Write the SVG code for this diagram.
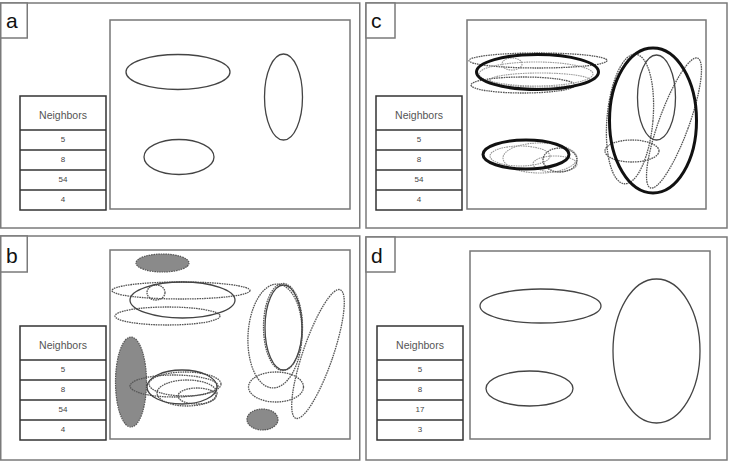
<svg xmlns="http://www.w3.org/2000/svg" width="732" height="461" viewBox="0 0 732 461">
<style>
.frame{fill:#fff;stroke:#7a7a7a;stroke-width:1.5}
.plot{fill:none;stroke:#777;stroke-width:1.5}
.tbl{fill:#fff;stroke:#333;stroke-width:1.5}
.lab{font-family:"Liberation Sans",Arial,sans-serif;font-size:21px;fill:#111}
.hd{font-family:"Liberation Sans",Arial,sans-serif;font-size:10.5px;fill:#555;text-anchor:middle}
.val{font-family:"Liberation Sans",Arial,sans-serif;font-size:8px;fill:#444;text-anchor:middle}
.sol{fill:none;stroke:#444;stroke-width:1.3}
.thk{fill:none;stroke:#111;stroke-width:3}
.dsh{fill:none;stroke:#555;stroke-width:1.3;stroke-dasharray:1.6 0.8}
.lgt{fill:none;stroke:#999;stroke-width:1.1;stroke-dasharray:1.6 0.8}
.gry{fill:#8a8a8a;stroke:#555;stroke-width:1.2;stroke-dasharray:1.6 0.8}
</style>
<defs>
<g id="tbl-rows">
<rect class="tbl" x="0" y="0" width="86" height="114"/>
<line class="tbl" x1="0" y1="34" x2="86" y2="34"/>
<line class="tbl" x1="0" y1="54" x2="86" y2="54"/>
<line class="tbl" x1="0" y1="74" x2="86" y2="74"/>
<line class="tbl" x1="0" y1="94" x2="86" y2="94"/>
<text class="hd" x="43" y="23">Neighbors</text>
</g>
</defs>

<!-- Panel a -->
<g id="panel-a">
<rect class="frame" x="0.75" y="3" width="359" height="225"/>
<rect class="frame" x="0.75" y="3" width="26.5" height="35"/>
<text class="lab" x="6" y="28">a</text>
<rect class="plot" x="110" y="20" width="240" height="189"/>
<g id="table-a" transform="translate(20,96)">
<use href="#tbl-rows"/>
<text class="val" x="43" y="46">5</text>
<text class="val" x="43" y="66">8</text>
<text class="val" x="43" y="86">54</text>
<text class="val" x="43" y="106">4</text>
</g>
<ellipse class="sol" cx="178" cy="72" rx="52" ry="17.5"/>
<ellipse class="sol" cx="283.5" cy="97" rx="19" ry="43"/>
<ellipse class="sol" cx="179" cy="157" rx="35" ry="17.5"/>
</g>

<!-- Panel c -->
<g id="panel-c">
<rect class="frame" x="366" y="3" width="361" height="225"/>
<rect class="frame" x="366" y="3" width="29" height="35"/>
<text class="lab" x="371" y="28">c</text>
<rect class="plot" x="467" y="20" width="239" height="189"/>
<g id="table-c" transform="translate(376,96)">
<use href="#tbl-rows"/>
<text class="val" x="43" y="46">5</text>
<text class="val" x="43" y="66">8</text>
<text class="val" x="43" y="86">54</text>
<text class="val" x="43" y="106">4</text>
</g>
<ellipse class="dsh" cx="538" cy="60.5" rx="69" ry="7.5"/>
<ellipse class="dsh" cx="523" cy="85" rx="52" ry="8"/>
<ellipse class="lgt" cx="536" cy="74" rx="57" ry="12"/>
<ellipse class="lgt" cx="512" cy="64" rx="10" ry="6"/>
<ellipse class="lgt" cx="540" cy="80" rx="50" ry="7"/>
<ellipse class="thk" cx="537.5" cy="72" rx="61" ry="17.5"/>
<ellipse class="lgt" cx="540" cy="158" rx="37" ry="15"/>
<ellipse class="lgt" cx="555" cy="164" rx="22" ry="8"/>
<ellipse class="lgt" cx="520" cy="156" rx="30" ry="10"/>
<ellipse class="dsh" cx="560" cy="160" rx="17" ry="12"/>
<ellipse class="thk" cx="526" cy="154.5" rx="43" ry="14.5"/>
<ellipse class="dsh" cx="630" cy="119" rx="23" ry="65" transform="rotate(5 630 119)"/>
<ellipse class="dsh" cx="674" cy="123" rx="15" ry="69" transform="rotate(20 674 123)"/>
<ellipse class="dsh" cx="632" cy="151" rx="27" ry="11"/>
<ellipse class="sol" cx="656.5" cy="97.5" rx="19" ry="42.5"/>
<ellipse class="thk" cx="653" cy="120.5" rx="43.5" ry="72.5"/>
</g>

<!-- Panel b -->
<g id="panel-b">
<rect class="frame" x="0.75" y="236" width="359" height="224"/>
<rect class="frame" x="0.75" y="236" width="26.5" height="36"/>
<text class="lab" x="6" y="263">b</text>
<rect class="plot" x="110" y="250" width="240" height="189"/>
<g id="table-b" transform="translate(20,326)">
<use href="#tbl-rows"/>
<text class="val" x="43" y="46">5</text>
<text class="val" x="43" y="66">8</text>
<text class="val" x="43" y="86">54</text>
<text class="val" x="43" y="106">4</text>
</g>
<ellipse class="gry" cx="162.5" cy="263" rx="26.5" ry="9"/>
<ellipse class="dsh" cx="181" cy="290.5" rx="69" ry="8.5"/>
<ellipse class="dsh" cx="167.5" cy="316" rx="52.5" ry="9"/>
<ellipse class="dsh" cx="156" cy="292.5" rx="9" ry="7.5"/>
<ellipse class="sol" cx="182.5" cy="300" rx="52.5" ry="18"/>
<ellipse class="gry" cx="131" cy="382" rx="15.5" ry="45"/>
<ellipse class="dsh" cx="174" cy="386" rx="44" ry="11"/>
<ellipse class="dsh" cx="187" cy="393" rx="30" ry="13"/>
<ellipse class="dsh" cx="197" cy="396" rx="19" ry="8"/>
<ellipse class="dsh" cx="185" cy="384" rx="36" ry="12"/>
<ellipse class="sol" cx="182" cy="387" rx="35" ry="17"/>
<ellipse class="dsh" cx="275" cy="336" rx="27" ry="52" transform="rotate(3 275 336)"/>
<ellipse class="dsh" cx="318" cy="354" rx="15" ry="68" transform="rotate(19 318 354)"/>
<ellipse class="dsh" cx="276" cy="387" rx="27.5" ry="15"/>
<ellipse class="sol" cx="283.5" cy="327.5" rx="18.5" ry="42.5"/>
<ellipse class="dsh" cx="283" cy="327" rx="19.5" ry="43.5"/>
<ellipse class="gry" cx="262.5" cy="419.5" rx="15.5" ry="10.5"/>
</g>

<!-- Panel d -->
<g id="panel-d">
<rect class="frame" x="366" y="237" width="361" height="223"/>
<rect class="frame" x="366" y="237" width="29" height="35"/>
<text class="lab" x="371" y="263">d</text>
<rect class="plot" x="470" y="251" width="240" height="188"/>
<g id="table-d" transform="translate(377,326)">
<use href="#tbl-rows"/>
<text class="val" x="43" y="46">5</text>
<text class="val" x="43" y="66">8</text>
<text class="val" x="43" y="86">17</text>
<text class="val" x="43" y="106">3</text>
</g>
<ellipse class="sol" cx="540.5" cy="306" rx="60.5" ry="17"/>
<ellipse class="sol" cx="529.5" cy="388.5" rx="43.5" ry="17.5"/>
<ellipse class="sol" cx="656.5" cy="351" rx="43.5" ry="72"/>
</g>
</svg>
